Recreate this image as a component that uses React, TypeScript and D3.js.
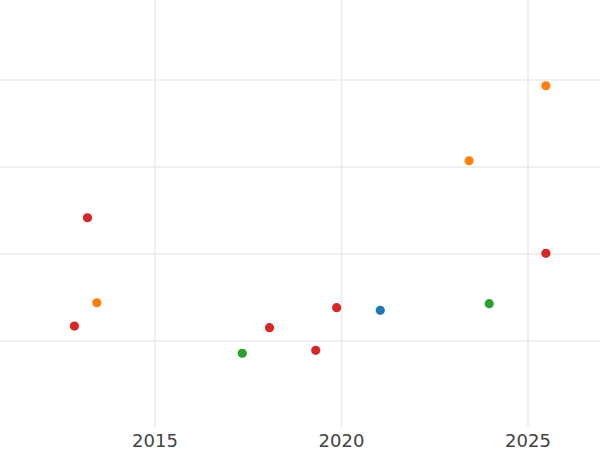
import React from "react";
import * as d3 from "d3";

const W = 600;
const H = 450;

const blueX = [2021.04];
const blueY = [13.53];
const orangeX = [2013.44, 2023.42, 2025.48];
const orangeY = [14.4, 30.72, 39.34];
const greenX = [2017.34, 2023.96];
const greenY = [8.59, 14.29];
const redX = [2012.84, 2013.19, 2018.07, 2019.31, 2019.87, 2025.48];
const redY = [11.72, 24.17, 11.53, 8.93, 13.83, 20.08];

const xTicks = [2015, 2020, 2025];
const yTicks = [10, 20, 30, 40];

const series = [
  { name: "A", color: "#1f77b4", xs: blueX, ys: blueY },
  { name: "B", color: "#ff7f0e", xs: orangeX, ys: orangeY },
  { name: "C", color: "#2ca02c", xs: greenX, ys: greenY },
  { name: "D", color: "#d62728", xs: redX, ys: redY },
];

export default function App() {
  const x = d3.scaleLinear().domain([2015, 2025]).range([155, 528]);
  const y = d3.scaleLinear().domain([0, 49.2]).range([428, 0]);
  const plotBottom = 427;

  return (
    <svg
      width={W}
      height={H}
      style={{ position: "absolute", left: 0, top: 0, background: "#fff" }}
    >
      <g>
        {yTicks.map((t) => (
          <line
            key={"gy" + t}
            x1={0}
            x2={W}
            y1={y(t)}
            y2={y(t)}
            stroke="#ebebeb"
            strokeWidth={1.5}
          />
        ))}
        {xTicks.map((t) => (
          <line
            key={"gx" + t}
            x1={x(t)}
            x2={x(t)}
            y1={0}
            y2={plotBottom}
            stroke="#ebebeb"
            strokeWidth={1.5}
          />
        ))}
      </g>
      <g>
        {series.map((s) =>
          s.xs.map((xv, i) => (
            <circle
              key={s.name + i}
              cx={x(xv)}
              cy={y(s.ys[i])}
              r={4.6}
              fill={s.color}
            />
          ))
        )}
      </g>
      <g>
        {xTicks.map((t) => (
          <text
            key={"tx" + t}
            x={x(t)}
            y={447}
            textAnchor="middle"
            fontFamily="DejaVu Sans"
            fontSize={18}
            fill="#444"
          >
            {t}
          </text>
        ))}
      </g>
    </svg>
  );
}
